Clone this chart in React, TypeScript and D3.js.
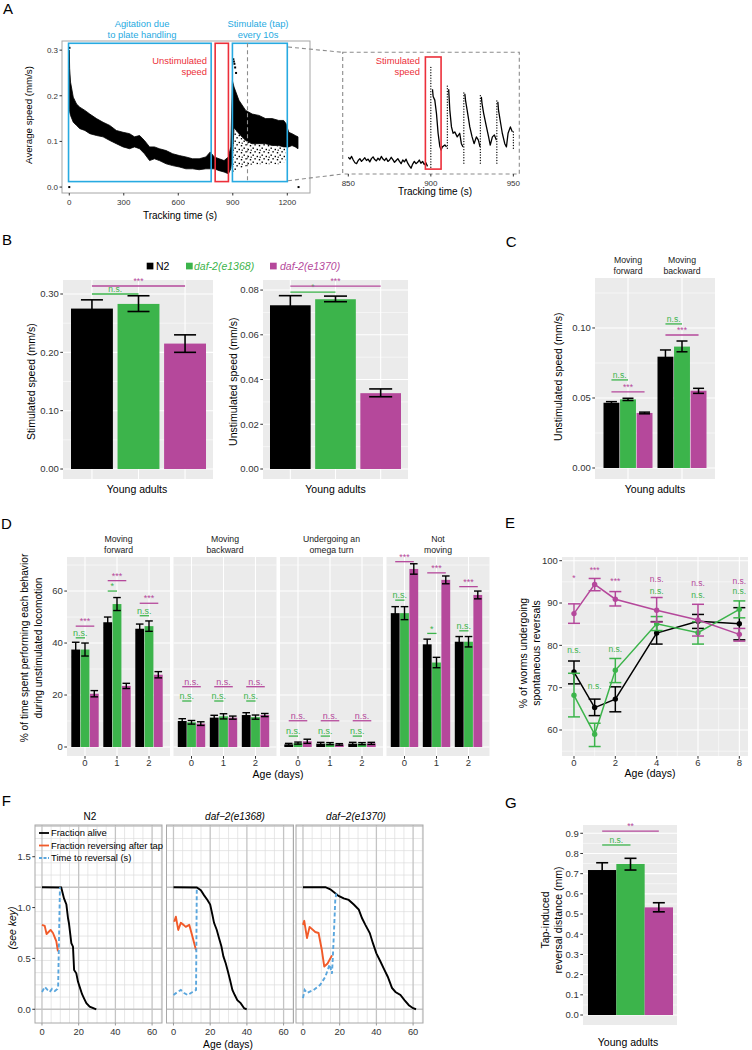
import React from "react";
import * as d3 from "d3";

const FONT = "'Liberation Sans', Arial, Helvetica, sans-serif";
const STRAINS = ["N2", "daf-2(e1368)", "daf-2(e1370)"];
const STRAIN_COLORS = ["#000000", "#3cb44b", "#b5489b"];
const CYAN = "#27aae1";
const BOX_RED = "#ec2f3a";
const PANEL_BG = "#ebebeb";
const AXIS_GREY = "#333333";
const F_RED = "#f15a29";
const F_BLUE = "#5aa6dd";

// ---------- A: average speed trace (band) ----------
const trackTime = [0, 2, 7, 22, 40, 58, 86, 113, 150, 186, 223, 259, 296, 332, 359, 387, 414, 442, 469, 496, 533, 569, 606, 642, 679, 715, 752, 776, 798, 825, 852, 876, 889, 898, 907, 934, 971, 1007, 1044, 1080, 1117, 1153, 1180, 1193, 1208, 1226, 1244, 1259];
const trackHigh = [0.3, 0.26, 0.23, 0.197, 0.182, 0.175, 0.168, 0.16, 0.15, 0.142, 0.135, 0.124, 0.12, 0.117, 0.11, 0.113, 0.102, 0.088, 0.088, 0.084, 0.08, 0.073, 0.069, 0.066, 0.062, 0.062, 0.066, 0.077, 0.066, 0.062, 0.058, 0.066, 0.088, 0.233, 0.219, 0.19, 0.168, 0.16, 0.157, 0.15, 0.15, 0.146, 0.146, 0.139, 0.12, 0.117, 0.113, 0.11];
const trackLow = [0.17, 0.165, 0.157, 0.142, 0.135, 0.128, 0.124, 0.117, 0.113, 0.11, 0.102, 0.095, 0.088, 0.084, 0.088, 0.084, 0.073, 0.058, 0.062, 0.058, 0.051, 0.047, 0.044, 0.04, 0.04, 0.038, 0.04, 0.04, 0.04, 0.036, 0.033, 0.029, 0.04, 0.066, 0.13, 0.117, 0.102, 0.095, 0.095, 0.095, 0.091, 0.091, 0.088, 0.088, 0.088, 0.091, 0.088, 0.084];
const scatterTime = [898, 907, 934, 971, 1007, 1044, 1080, 1117, 1153, 1193];
const scatterHigh = [0.066, 0.13, 0.117, 0.102, 0.095, 0.095, 0.095, 0.091, 0.091, 0.088];
const scatterLow = [0.03, 0.035, 0.04, 0.045, 0.048, 0.05, 0.05, 0.05, 0.05, 0.055];
const outlierTime = [0, 1, 1262, 903, 906, 909, 913, 918];
const outlierSpeed = [0.0, 0.305, 0.0, 0.28, 0.275, 0.27, 0.262, 0.25];
const agitationWindow = [-4, 781];
const unstimWindow = [803, 876];
const tapWindow = [898, 1200];
const zoomMarker = 981;
const aXTicks = [0, 300, 600, 900, 1200];
const aYTicks = [0, 0.1, 0.2, 0.3];

// inset 850-950 s
const insetBaseT = [850, 851, 852, 853, 854, 855, 856, 857, 858, 859, 860, 861, 862, 863, 864, 865, 866, 867, 868, 869, 870, 871, 872, 873, 874, 875, 876, 877, 878, 879, 880, 881, 882, 883, 884, 885, 886, 887, 888, 889, 890, 891, 892, 893, 894, 895, 896, 897, 898];
const insetBaseV = [0.05, 0.046, 0.052, 0.044, 0.038, 0.036, 0.043, 0.047, 0.041, 0.045, 0.049, 0.043, 0.046, 0.04, 0.047, 0.051, 0.045, 0.042, 0.048, 0.044, 0.052, 0.046, 0.043, 0.048, 0.041, 0.044, 0.05, 0.045, 0.039, 0.043, 0.047, 0.041, 0.036, 0.044, 0.04, 0.046, 0.037, 0.031, 0.026, 0.035, 0.041, 0.036, 0.039, 0.044, 0.037, 0.041, 0.034, 0.038, 0.03];
const insetRecoveryT = [
  [901, 901.4, 902.4, 903.4, 904.4, 905.4, 906.2, 907, 908.5, 909.5],
  [910.8, 911.5, 912.5, 913.5, 914.5, 916, 917.5, 918.5, 919.5],
  [920.6, 921, 922, 923.6, 925, 926.2, 927.6, 928.8, 929.8],
  [930.6, 931, 932, 933.7, 935, 936, 937.3, 938.5, 939.7],
  [940.6, 941, 942.3, 943.3, 944.8, 945.8, 946.8, 948.2, 949.4],
];
const insetRecoveryV = [
  [0.2, 0.184, 0.176, 0.147, 0.103, 0.075, 0.066, 0.073, 0.077, 0.073],
  [0.2, 0.154, 0.117, 0.103, 0.106, 0.095, 0.103, 0.08, 0.073],
  [0.19, 0.176, 0.154, 0.117, 0.095, 0.08, 0.095, 0.088, 0.073],
  [0.183, 0.169, 0.147, 0.117, 0.095, 0.077, 0.095, 0.099, 0.088],
  [0.172, 0.154, 0.125, 0.103, 0.08, 0.073, 0.103, 0.117, 0.106],
];
const tapT = [900, 910, 920, 930, 940, 950];
const tapLow = [0.028, 0.07, 0.037, 0.037, 0.037, 0.07];
const tapHigh = [0.25, 0.209, 0.195, 0.187, 0.176, 0.11];
const stimWindow = [896.7, 906.2];
const insetXTicks = [850, 900, 950];

// ---------- B ----------
const bStimMean = [0.275, 0.283, 0.215];
const bStimLo = [0.261, 0.27, 0.2];
const bStimHi = [0.29, 0.297, 0.23];
const bStimSig = [{ to: 1, y: 0.3, label: "n.s." }, { to: 2, y: 0.3137, label: "***" }];
const bUnstimMean = [0.0732, 0.0759, 0.0339];
const bUnstimLo = [0.0688, 0.0748, 0.0323];
const bUnstimHi = [0.0775, 0.0773, 0.0358];
const bUnstimSig = [{ to: 1, y: 0.0791, label: "*" }, { to: 2, y: 0.0818, label: "***" }];

// ---------- C ----------
const cGroups = ["forward", "backward"];
const cGroupLabels = [["Moving", "forward"], ["Moving", "backward"]];
const cMean = [[0.0466, 0.0795], [0.049, 0.0867], [0.0393, 0.0552]];
const cLo = [[0.0458, 0.0747], [0.0482, 0.083], [0.0387, 0.0533]];
const cHi = [[0.0474, 0.0843], [0.0498, 0.0907], [0.0399, 0.0569]];
const cSigGreenY = [0.0629, 0.1029];
const cSigMagentaY = [0.0543, 0.095];

// ---------- D ----------
const dAges = ["0", "1", "2"];
const dFacetLabels = [["Moving", "forward"], ["Moving", "backward"], ["Undergoing an", "omega turn"], ["Not", "moving"]];
const dForward = [[37.5, 48, 45.5], [37.5, 55, 46.5], [20.5, 23.5, 27.8]];
const dForwardErr = [[2.8, 2, 1.8], [2.5, 2.5, 2], [1.2, 1, 1.2]];
const dBackward = [[10, 11.3, 12.3], [9.5, 11.8, 11.5], [9, 11.3, 12.3]];
const dBackwardErr = [[0.9, 0.9, 0.9], [0.7, 1, 0.8], [0.7, 0.6, 0.6]];
const dOmega = [[1, 1.3, 1.3], [1.5, 1.3, 1.3], [2.2, 1, 1.4]];
const dOmegaErr = [[0.4, 0.5, 0.5], [0.4, 0.4, 0.4], [0.8, 0.3, 0.4]];
const dNotMoving = [[51.5, 39.5, 40.5], [51.5, 32.5, 40.5], [68.5, 64.3, 58.5]];
const dNotMovingErr = [[2.5, 2, 2], [2.5, 2, 2], [2, 1.5, 1.5]];
const dSigGreenY = [[42, 60, 50.5], [17.7, 17.7, 17.7], [4.2, 4.2, 4.2], [56.5, 43.7, 44.7]];
const dSigGreenLbl = [["n.s.", "*", "n.s."], ["n.s.", "n.s.", "n.s."], ["n.s.", "n.s.", "n.s."], ["n.s.", "*", "n.s."]];
const dSigMagY = [[46.5, 64, 55.3], [23.2, 23.2, 23.2], [10.1, 10.1, 10.1], [71.3, 67, 61.7]];
const dSigMagLbl = [["***", "***", "***"], ["n.s.", "n.s.", "n.s."], ["n.s.", "n.s.", "n.s."], ["***", "***", "***"]];

// ---------- E ----------
const eAges = [0, 1, 2, 4, 6, 8];
const eMean = [[73.7, 65.3, 67.3, 82.9, 85.7, 85.1], [68.2, 59, 74.1, 85.1, 83, 88.5], [87.5, 94.4, 90.9, 88.3, 86, 82.6]];
const eLo = [[70.9, 63.4, 64.3, 80.3, 84, 81.3], [63.1, 56.1, 71.2, 83.5, 80.3, 86.5], [85.2, 92.9, 89.3, 85.5, 82.2, 81]];
const eHi = [[76.3, 67.3, 70.2, 85.6, 87.3, 88.9], [73.4, 61.6, 76.9, 86.8, 85.6, 90.5], [89.8, 95.8, 92.7, 91.3, 89.7, 84]];
const eSigMagLbl = ["*", "***", "***", "n.s.", "n.s.", "n.s."];
const eSigMagY = [95.2, 97.0, 94.4, 94.85, 94.1, 94.6];
const eSigGreenLbl = ["n.s.", "n.s.", "n.s.", "n.s.", "n.s.", "n.s."];
const eSigGreenY = [78.3, 69.6, 78.5, 92.1, 91.3, 92.1];

// ---------- F ----------
const fTitles = ["N2", "daf\u22122(e1368)", "daf\u22122(e1370)"];
const fAliveDays = [
  [0, 10.5, 12, 13.3, 14.2, 14.7, 16, 16.9, 17.5, 18.7, 19.6, 20.5, 21.8, 22.9, 24.2, 26, 29.6],
  [0, 12.7, 14.9, 16.7, 18.5, 20, 21.2, 22.1, 23.6, 24.8, 26.1, 27.2, 28.5, 29.7, 30.8, 32.1, 33.4, 34.8, 36.6, 38.5, 39.9],
  [0, 12.2, 14.9, 17.6, 19.4, 22.2, 24.9, 27.7, 30.4, 32.2, 34, 36.4, 38.1, 40, 42.2, 44.3, 46.2, 48.5, 50.4, 53.1, 55.3, 57.7, 60, 61.6],
];
const fAlive = [
  [1.2, 1.197, 1.09, 1.03, 0.895, 0.846, 0.65, 0.616, 0.387, 0.354, 0.272, 0.223, 0.15, 0.108, 0.059, 0.026, 0],
  [1.2, 1.197, 1.17, 1.12, 1.075, 1.03, 0.93, 0.85, 0.78, 0.7, 0.62, 0.52, 0.45, 0.37, 0.29, 0.19, 0.14, 0.09, 0.06, 0.01, 0],
  [1.2, 1.2, 1.18, 1.14, 1.115, 1.09, 1.075, 1.03, 0.98, 0.895, 0.83, 0.75, 0.65, 0.55, 0.47, 0.39, 0.32, 0.21, 0.17, 0.14, 0.09, 0.04, 0.01, 0],
];
const fRevDays = [
  [0, 1.5, 2.5, 3.6, 4.7, 6, 6.9, 7.8, 8.7],
  [0.4, 1.3, 2.6, 4, 5.5, 6.7, 8.6, 10.4, 12.3],
  [0, 0.7, 1.3, 2.2, 3.6, 6.7, 8.5, 10.3, 11.6, 13.4, 15.8],
];
const fRev = [
  [0.83, 0.82, 0.74, 0.76, 0.78, 0.75, 0.71, 0.67, 0.57],
  [0.86, 0.91, 0.78, 0.85, 0.83, 0.81, 0.83, 0.71, 0.58],
  [0.83, 0.87, 0.8, 0.7, 0.81, 0.76, 0.75, 0.58, 0.42, 0.45, 0.53],
];
const fTimeDays = [
  [0, 1.5, 3, 4.2, 5.5, 7, 8.4, 8.8, 9.8],
  [0, 2.2, 4, 5.8, 7.7, 10.4, 12.3, 12.7],
  [0, 0.9, 2.2, 5.8, 9.4, 12.2, 14.5, 15.8, 16.3, 17.1, 17.6, 18.2],
];
const fTime = [
  [0.17, 0.22, 0.19, 0.17, 0.2, 0.18, 0.2, 0.22, 1.2],
  [0.14, 0.17, 0.19, 0.16, 0.14, 0.17, 0.19, 1.19],
  [0.11, 0.19, 0.16, 0.19, 0.24, 0.32, 0.44, 0.35, 0.52, 0.85, 1.075, 1.14],
];
const fLegend = ["Fraction alive", "Fraction reversing after tap", "Time to reversal (s)"];
const fYTicks = [0, 0.5, 1.0, 1.5];
const fXTicks = [0, 20, 40, 60];

// ---------- G ----------
const gDist = [0.718, 0.748, 0.533];
const gLo = [0.682, 0.718, 0.511];
const gHi = [0.754, 0.776, 0.556];
const gSig = [{ to: 1, y: 0.842, label: "n.s." }, { to: 2, y: 0.911, label: "**" }];

// ---------- helpers ----------
function ErrBar({ x, y1, y2, half, sw = 1.5, color = "#000" }: any) {
  return (
    <g stroke={color} strokeWidth={sw} fill="none">
      <line x1={x} x2={x} y1={y1} y2={y2} />
      <line x1={x - half} x2={x + half} y1={y1} y2={y1} />
      <line x1={x - half} x2={x + half} y1={y2} y2={y2} />
    </g>
  );
}

function Sig({ x1, x2, y, label, color, fs = 8.5 }: any) {
  return (
    <g>
      <line x1={x1} x2={x2} y1={y} y2={y} stroke={color} strokeWidth={1.3} />
      <text x={(x1 + x2) / 2} y={y - 1.8} fontSize={fs} fill={color} textAnchor="middle">
        {label}
      </text>
    </g>
  );
}

function GrayPanel({ x0, x1, y0, y1, hMajor = [], hMinor = [], vMajor = [], vMinor = [] }: any) {
  return (
    <g>
      <rect x={x0} y={y0} width={x1 - x0} height={y1 - y0} fill={PANEL_BG} />
      {hMinor.map((v: number, i: number) => (
        <line key={"hm" + i} x1={x0} x2={x1} y1={v} y2={v} stroke="#fff" strokeWidth={0.55} />
      ))}
      {vMinor.map((v: number, i: number) => (
        <line key={"vm" + i} x1={v} x2={v} y1={y0} y2={y1} stroke="#fff" strokeWidth={0.55} />
      ))}
      {hMajor.map((v: number, i: number) => (
        <line key={"hM" + i} x1={x0} x2={x1} y1={v} y2={v} stroke="#fff" strokeWidth={1.1} />
      ))}
      {vMajor.map((v: number, i: number) => (
        <line key={"vM" + i} x1={v} x2={v} y1={y0} y2={y1} stroke="#fff" strokeWidth={1.1} />
      ))}
    </g>
  );
}

function YTicks({ scale, ticks, x, fmt, fs = 9.5, len = 2.7, color = AXIS_GREY }: any) {
  return (
    <g>
      {ticks.map((v: number, i: number) => (
        <g key={i}>
          <line x1={x - len} x2={x} y1={scale(v)} y2={scale(v)} stroke={color} strokeWidth={1} />
          <text x={x - len - 1.5} y={scale(v)} dy="0.35em" fontSize={fs} textAnchor="end" fill={color}>
            {fmt(v)}
          </text>
        </g>
      ))}
    </g>
  );
}

function VTitle({ x, y, lines, fs = 10.5, gap = 13, italic = false }: any) {
  return (
    <g transform={`translate(${x},${y}) rotate(-90)`}>
      {lines.map((s: string, i: number) => (
        <text key={i} x={0} y={(i - (lines.length - 1) / 2) * gap} dy="0.35em" fontSize={fs} textAnchor="middle" fontStyle={italic ? "italic" : "normal"}>
          {s}
        </text>
      ))}
    </g>
  );
}

// ---------- panel A ----------
function PanelA() {
  const x = d3.scaleLinear().domain([-40, 1325]).range([62, 310]);
  const y = d3.scaleLinear().domain([-0.013, 0.32]).range([193, 41]);
  const band = d3
    .area<number>()
    .x((i) => x(trackTime[i]))
    .y0((i) => y(trackLow[i]))
    .y1((i) => y(trackHigh[i]));
  const speckle = d3
    .area<number>()
    .x((i) => x(scatterTime[i]))
    .y0((i) => y(scatterLow[i]))
    .y1((i) => y(scatterHigh[i]));
  const top = y(0.315);
  const bot = y(0.012);
  const box = (w: number[], color: string) => (
    <rect x={x(w[0])} y={top} width={x(w[1]) - x(w[0])} height={bot - top} fill="none" stroke={color} strokeWidth={1.6} />
  );

  const ix = d3.scaleLinear().domain([846.6, 953.6]).range([342.7, 519.3]);
  const iy = d3.scaleLinear().domain([0, 0.28]).range([180, 52.9]);
  const baseLine = d3
    .line<number>()
    .x((i) => ix(insetBaseT[i]))
    .y((i) => iy(insetBaseV[i]));
  const seg = (k: number) =>
    d3
      .line<number>()
      .x((i) => ix(insetRecoveryT[k][i]))
      .y((i) => iy(insetRecoveryV[k][i]))(d3.range(insetRecoveryT[k].length));

  return (
    <g>
      <text x={3} y={14} fontSize={15}>A</text>
      <g fontSize={9.4} fill={CYAN} textAnchor="middle">
        <text x={142} y={27}>Agitation due</text>
        <text x={142} y={37.5}>to plate handling</text>
        <text x={258} y={27}>Stimulate (tap)</text>
        <text x={258} y={37.5}>every 10s</text>
      </g>
      <rect x={62} y={41} width={248} height={152} fill="#fff" stroke="#a6a6a6" strokeWidth={1} />
      <path d={speckle(d3.range(scatterTime.length)) || ""} fill="url(#speckle)" />
      <path d={band(d3.range(trackTime.length)) || ""} fill="#000" stroke="#000" strokeWidth={0.8} strokeLinejoin="round" />
      {outlierTime.map((t, i) => (
        <rect key={i} x={x(t) - 1} y={y(outlierSpeed[i]) - 1} width={2} height={2} fill="#000" />
      ))}
      {box(agitationWindow, CYAN)}
      {box(unstimWindow, BOX_RED)}
      {box(tapWindow, CYAN)}
      <line x1={x(zoomMarker)} x2={x(zoomMarker)} y1={top} y2={bot} stroke="#8c8c8c" strokeWidth={1.1} strokeDasharray="4,3" />
      <g fontSize={9.4} fill={BOX_RED} textAnchor="end">
        <text x={207} y={64}>Unstimulated</text>
        <text x={207} y={74.5}>speed</text>
      </g>
      <YTicks scale={y} ticks={aYTicks} x={62} fmt={d3.format(".1f")} fs={8} len={2.5} />
      {aXTicks.map((t) => (
        <g key={t}>
          <line x1={x(t)} x2={x(t)} y1={193} y2={195.5} stroke={AXIS_GREY} />
          <text x={x(t)} y={204.5} fontSize={8} textAnchor="middle" fill={AXIS_GREY}>{t}</text>
        </g>
      ))}
      <VTitle x={28.3} y={115} lines={["Average speed (mm/s)"]} fs={9.7} />
      <text x={180} y={218.5} fontSize={10} textAnchor="middle">Tracking time (s)</text>

      {/* zoom connectors and inset */}
      <g stroke="#8c8c8c" strokeWidth={1.1} strokeDasharray="4,3" fill="none">
        <line x1={288} y1={47} x2={342.7} y2={52.3} />
        <line x1={288} y1={180.7} x2={342.7} y2={174} />
        <rect x={342.7} y={52.3} width={176.6} height={121.7} />
      </g>
      {tapT.map((t, i) => (
        <line key={t} x1={ix(t)} x2={ix(t)} y1={iy(tapLow[i])} y2={iy(tapHigh[i])} stroke="#000" strokeWidth={1.3} strokeLinecap="round" strokeDasharray="0.1,2.6" />
      ))}
      <path d={baseLine(d3.range(insetBaseT.length)) || ""} fill="none" stroke="#000" strokeWidth={1.3} strokeLinejoin="round" />
      {insetRecoveryT.map((_, k) => (
        <path key={k} d={seg(k) || ""} fill="none" stroke="#000" strokeWidth={1.3} strokeLinejoin="round" />
      ))}
      <rect x={ix(stimWindow[0])} y={iy(0.271)} width={ix(stimWindow[1]) - ix(stimWindow[0])} height={iy(0.024) - iy(0.271)} fill="none" stroke={BOX_RED} strokeWidth={1.6} />
      <g fontSize={9.4} fill={BOX_RED} textAnchor="end">
        <text x={420} y={63.5}>Stimulated</text>
        <text x={420} y={75}>speed</text>
      </g>
      {insetXTicks.map((t) => (
        <g key={t}>
          <line x1={ix(t)} x2={ix(t)} y1={174} y2={176.5} stroke={AXIS_GREY} />
          <text x={ix(t)} y={185.5} fontSize={8} textAnchor="middle" fill={AXIS_GREY}>{t}</text>
        </g>
      ))}
      <text x={435} y={195} fontSize={10} textAnchor="middle">Tracking time (s)</text>
    </g>
  );
}

// ---------- bar trio (B, G) ----------
function BarTrio({ x0, x1, yTop, yBot, domain, barRange, pad, mean, lo, hi, sigs, ticks, minor, fmt, capHalf, vGrid = true, sigFs = 8.5 }: any) {
  const y = d3.scaleLinear().domain(domain).range([yBot, yTop]);
  const x = d3.scaleBand().domain(STRAINS).range(barRange).paddingInner(pad);
  const cx = (i: number) => (x(STRAINS[i]) as number) + x.bandwidth() / 2;
  return (
    <g>
      <GrayPanel
        x0={x0}
        x1={x1}
        y0={yTop}
        y1={yBot}
        hMajor={ticks.map(y)}
        hMinor={minor.map(y)}
        vMajor={vGrid ? STRAINS.map((_, i) => cx(i)) : []}
      />
      {STRAINS.map((s, i) => (
        <rect key={s} x={x(s)} y={y(mean[i])} width={x.bandwidth()} height={y(0) - y(mean[i])} fill={STRAIN_COLORS[i]} />
      ))}
      {STRAINS.map((s, i) => (
        <ErrBar key={s} x={cx(i)} y1={y(lo[i])} y2={y(hi[i])} half={capHalf} sw={1.6} />
      ))}
      {sigs.map((g: any, k: number) => (
        <Sig key={k} x1={cx(0)} x2={cx(g.to)} y={y(g.y)} label={g.label} color={STRAIN_COLORS[g.to]} fs={sigFs} />
      ))}
      <YTicks scale={y} ticks={ticks} x={x0} fmt={fmt} />
    </g>
  );
}

function PanelB() {
  return (
    <g>
      <text x={2} y={245} fontSize={15}>B</text>
      <rect x={146.7} y={262.7} width={6.7} height={6.7} fill={STRAIN_COLORS[0]} />
      <text x={156} y={270} fontSize={10.5}>N2</text>
      <rect x={186} y={262.7} width={6.7} height={6.7} fill={STRAIN_COLORS[1]} />
      <text x={194} y={270} fontSize={10.5} fontStyle="italic" fill={STRAIN_COLORS[1]}>{STRAINS[1]}</text>
      <rect x={270} y={262.7} width={6.7} height={6.7} fill={STRAIN_COLORS[2]} />
      <text x={280} y={270} fontSize={10.5} fontStyle="italic" fill={STRAIN_COLORS[2]}>{STRAINS[2]}</text>

      <BarTrio
        x0={63}
        x1={213}
        yTop={280}
        yBot={479}
        domain={[-0.0171, 0.324]}
        barRange={[71, 206]}
        pad={0.1}
        mean={bStimMean}
        lo={bStimLo}
        hi={bStimHi}
        sigs={bStimSig}
        ticks={[0, 0.1, 0.2, 0.3]}
        minor={[0.05, 0.15, 0.25]}
        fmt={d3.format(".2f")}
        capHalf={11}
      />
      <VTitle x={31.7} y={381.7} lines={["Stimulated speed (mm/s)"]} />
      <text x={137} y={492.5} fontSize={10.5} textAnchor="middle">Young adults</text>

      <BarTrio
        x0={263}
        x1={408}
        yTop={280}
        yBot={479}
        domain={[-0.00447, 0.0845]}
        barRange={[270, 401]}
        pad={0.1}
        mean={bUnstimMean}
        lo={bUnstimLo}
        hi={bUnstimHi}
        sigs={bUnstimSig}
        ticks={[0, 0.02, 0.04, 0.06, 0.08]}
        minor={[0.01, 0.03, 0.05, 0.07]}
        fmt={d3.format(".2f")}
        capHalf={11.5}
      />
      <VTitle x={233.3} y={381.7} lines={["Unstimulated speed (mm/s)"]} />
      <text x={335.5} y={492.5} fontSize={10.5} textAnchor="middle">Young adults</text>
    </g>
  );
}

function PanelC() {
  const y = d3.scaleLinear().domain([-0.00786, 0.1357]).range([479, 278]);
  const g = d3.scalePoint().domain(cGroups).range([628, 682]);
  const yt = [0, 0.05, 0.1];
  return (
    <g>
      <text x={505.7} y={246.7} fontSize={15}>C</text>
      <GrayPanel
        x0={595}
        x1={715}
        y0={278}
        y1={479}
        hMajor={yt.map(y)}
        hMinor={[0.025, 0.075, 0.125].map(y)}
        vMajor={cGroups.map((k) => g(k))}
      />
      {cGroups.map((k, j) => {
        const c = g(k) as number;
        const b = d3.scaleBand().domain(STRAINS).range([c - 24.5, c + 24.5]).paddingInner(0.04);
        const cx = (i: number) => (b(STRAINS[i]) as number) + b.bandwidth() / 2;
        return (
          <g key={k}>
            {STRAINS.map((s, i) => (
              <rect key={s} x={b(s)} y={y(cMean[i][j])} width={b.bandwidth()} height={y(0) - y(cMean[i][j])} fill={STRAIN_COLORS[i]} />
            ))}
            {STRAINS.map((s, i) => (
              <ErrBar key={s} x={cx(i)} y1={y(cLo[i][j])} y2={y(cHi[i][j])} half={5.5} sw={1.5} />
            ))}
            <Sig x1={cx(0)} x2={cx(1)} y={y(cSigGreenY[j])} label="n.s." color={STRAIN_COLORS[1]} />
            <Sig x1={cx(0)} x2={cx(2)} y={y(cSigMagentaY[j])} label="***" color={STRAIN_COLORS[2]} />
            <text x={c} y={262.5} fontSize={8.7} textAnchor="middle" fill="#1a1a1a">{cGroupLabels[j][0]}</text>
            <text x={c} y={274} fontSize={8.7} textAnchor="middle" fill="#1a1a1a">{cGroupLabels[j][1]}</text>
          </g>
        );
      })}
      <YTicks scale={y} ticks={yt} x={595} fmt={d3.format(".2f")} />
      <VTitle x={558.3} y={376.7} lines={["Unstimulated speed (mm/s)"]} />
      <text x={655} y={492.5} fontSize={10.5} textAnchor="middle">Young adults</text>
    </g>
  );
}

function PanelD() {
  const y = d3.scaleLinear().domain([-3.46, 73.1]).range([756, 557]);
  const panelX = [67, 173.5, 280, 386.5];
  const w = 103;
  const means = [dForward, dBackward, dOmega, dNotMoving];
  const errs = [dForwardErr, dBackwardErr, dOmegaErr, dNotMovingErr];
  const yt = [0, 20, 40, 60];
  return (
    <g>
      <text x={1} y={529} fontSize={15}>D</text>
      {panelX.map((px, p) => {
        const ax = d3.scalePoint().domain(dAges).range([px + 18, px + 82]);
        return (
          <g key={p}>
            <GrayPanel
              x0={px}
              x1={px + w}
              y0={557}
              y1={756}
              hMajor={yt.map(y)}
              hMinor={[10, 30, 50, 70].map(y)}
              vMajor={dAges.map((a) => ax(a))}
            />
            <text x={px + w / 2} y={541.5} fontSize={8.7} textAnchor="middle" fill="#1a1a1a">{dFacetLabels[p][0]}</text>
            <text x={px + w / 2} y={553} fontSize={8.7} textAnchor="middle" fill="#1a1a1a">{dFacetLabels[p][1]}</text>
            {dAges.map((a, k) => {
              const c = ax(a) as number;
              const b = d3.scaleBand().domain(STRAINS).range([c - 13.7, c + 13.7]).paddingInner(0.05);
              const cx = (i: number) => (b(STRAINS[i]) as number) + b.bandwidth() / 2;
              return (
                <g key={a}>
                  {STRAINS.map((s, i) => (
                    <rect key={s} x={b(s)} y={y(means[p][i][k])} width={b.bandwidth()} height={y(0) - y(means[p][i][k])} fill={STRAIN_COLORS[i]} />
                  ))}
                  {STRAINS.map((s, i) => (
                    <ErrBar key={s} x={cx(i)} y1={y(means[p][i][k] - errs[p][i][k])} y2={y(means[p][i][k] + errs[p][i][k])} half={3.8} sw={1.4} />
                  ))}
                  <Sig x1={cx(0)} x2={cx(1)} y={y(dSigGreenY[p][k])} label={dSigGreenLbl[p][k]} color={STRAIN_COLORS[1]} fs={9} />
                  <Sig x1={cx(0)} x2={cx(2)} y={y(dSigMagY[p][k])} label={dSigMagLbl[p][k]} color={STRAIN_COLORS[2]} fs={9} />
                  <line x1={c} x2={c} y1={756} y2={758.7} stroke={AXIS_GREY} />
                  <text x={c} y={766} fontSize={9.5} textAnchor="middle" fill={AXIS_GREY}>{a}</text>
                </g>
              );
            })}
          </g>
        );
      })}
      <YTicks scale={y} ticks={yt} x={67} fmt={(v: number) => String(v)} />
      <VTitle x={31.5} y={648} lines={["% of time spent performing each behavior", "during unstimulated locomotion"]} fs={10.2} gap={13.3} />
      <text x={278} y={777.5} fontSize={10.5} textAnchor="middle">Age (days)</text>
    </g>
  );
}

function PanelE() {
  const x = d3.scaleLinear().domain([-0.58, 8.42]).range([562, 748]);
  const y = d3.scaleLinear().domain([53.86, 100.87]).range([756, 557]);
  const yt = [60, 70, 80, 90, 100];
  const xt = [0, 2, 4, 6, 8];
  const line = (s: number) =>
    d3
      .line<number>()
      .x((i) => x(eAges[i]))
      .y((i) => y(eMean[s][i]))(d3.range(eAges.length));
  return (
    <g>
      <text x={505} y={528} fontSize={15}>E</text>
      <GrayPanel
        x0={562}
        x1={748}
        y0={557}
        y1={756}
        hMajor={yt.map(y)}
        hMinor={[55, 65, 75, 85, 95].map(y)}
        vMajor={xt.map(x)}
        vMinor={[1, 3, 5, 7].map(x)}
      />
      {STRAINS.map((s, si) => (
        <g key={s}>
          <path d={line(si) || ""} fill="none" stroke={STRAIN_COLORS[si]} strokeWidth={1.5} />
          {eAges.map((a, i) => (
            <ErrBar key={a} x={x(a)} y1={y(eLo[si][i])} y2={y(eHi[si][i])} half={6} sw={1.5} color={STRAIN_COLORS[si]} />
          ))}
          {eAges.map((a, i) => (
            <circle key={"p" + a} cx={x(a)} cy={y(eMean[si][i])} r={2.7} fill={STRAIN_COLORS[si]} />
          ))}
        </g>
      ))}
      {eAges.map((a, i) => (
        <g key={a} fontSize={8.5} textAnchor="middle">
          <text x={x(a)} y={y(eSigMagY[i])} fill={STRAIN_COLORS[2]}>{eSigMagLbl[i]}</text>
          <text x={x(a)} y={y(eSigGreenY[i])} fill={STRAIN_COLORS[1]}>{eSigGreenLbl[i]}</text>
        </g>
      ))}
      <YTicks scale={y} ticks={yt} x={562} fmt={(v: number) => String(v)} />
      {xt.map((a) => (
        <g key={a}>
          <line x1={x(a)} x2={x(a)} y1={756} y2={758.7} stroke={AXIS_GREY} />
          <text x={x(a)} y={766} fontSize={9.5} textAnchor="middle" fill={AXIS_GREY}>{a}</text>
        </g>
      ))}
      <VTitle x={530} y={653} lines={["% of worms undergoing", "spontaneous reversals"]} fs={10.5} gap={13.4} />
      <text x={650} y={777} fontSize={10.5} textAnchor="middle">Age (days)</text>
    </g>
  );
}

function PanelF() {
  const y = d3.scaleLinear().domain([-0.135, 1.812]).range([1023, 825]);
  const panelX = [35, 166.5, 296];
  const titleX = [90, 235, 356];
  const w = 127;
  const hMinor = [0.12, 0.24, 0.36, 0.48, 0.72, 0.84, 0.96, 1.08, 1.32, 1.44, 1.56, 1.68];
  const hMajor = [0, 0.6, 1.2, 1.8];
  const vMinor = [5, 10, 15, 25, 30, 35, 45, 50, 55, 65];
  const vMajor = [0, 20, 40, 60];
  return (
    <g>
      <text x={1.7} y={805.7} fontSize={15}>F</text>
      {panelX.map((px, p) => {
        const x = d3.scaleLinear().domain([-3.8, 65.4]).range([px, px + w]);
        const mk = (days: number[], vals: number[]) =>
          d3
            .line<number>()
            .x((i) => x(days[i]))
            .y((i) => y(vals[i]))(d3.range(days.length)) || "";
        return (
          <g key={p}>
            <rect x={px} y={825} width={w} height={198} fill="#fff" />
            {hMinor.map((v) => (
              <line key={"h" + v} x1={px} x2={px + w} y1={y(v)} y2={y(v)} stroke="#dcdcdc" strokeWidth={0.7} />
            ))}
            {vMinor.map((v) => (
              <line key={"v" + v} x1={x(v)} x2={x(v)} y1={825} y2={1023} stroke="#dcdcdc" strokeWidth={0.7} />
            ))}
            {hMajor.map((v) => (
              <line key={"H" + v} x1={px} x2={px + w} y1={y(v)} y2={y(v)} stroke="#c4c4c4" strokeWidth={1.3} />
            ))}
            {vMajor.map((v) => (
              <line key={"V" + v} x1={x(v)} x2={x(v)} y1={825} y2={1023} stroke="#c4c4c4" strokeWidth={1.3} />
            ))}
            <rect x={px} y={825} width={w} height={198} fill="none" stroke="#a8a8a8" strokeWidth={1} />
            <path d={mk(fAliveDays[p], fAlive[p])} fill="none" stroke="#000" strokeWidth={1.9} />
            <path d={mk(fRevDays[p], fRev[p])} fill="none" stroke={F_RED} strokeWidth={1.9} strokeLinejoin="round" />
            <path d={mk(fTimeDays[p], fTime[p])} fill="none" stroke={F_BLUE} strokeWidth={1.9} strokeDasharray="4,2.5" />
            {fXTicks.map((t) => (
              <g key={t}>
                <line x1={x(t)} x2={x(t)} y1={1023} y2={1025.5} stroke="#999" />
                <text x={x(t)} y={1035} fontSize={9.3} textAnchor="middle" fill={AXIS_GREY}>{t}</text>
              </g>
            ))}
            <text x={titleX[p]} y={820} fontSize={10} textAnchor="middle" fontStyle={p === 0 ? "normal" : "italic"}>
              {fTitles[p]}
            </text>
          </g>
        );
      })}
      {fLegend.map((s, i) => (
        <g key={s}>
          <line x1={39} x2={49} y1={833 + i * 12.5} y2={833 + i * 12.5} stroke={["#000", F_RED, F_BLUE][i]} strokeWidth={1.8} strokeDasharray={i === 2 ? "3,1.5" : undefined} />
          <text x={51} y={833 + i * 12.5} dy="0.35em" fontSize={9.4}>{s}</text>
        </g>
      ))}
      <YTicks scale={y} ticks={fYTicks} x={35} fmt={d3.format(".1f")} color={AXIS_GREY} />
      <VTitle x={12} y={928} lines={["(see key)"]} fs={10.5} italic />
      <text x={228} y={1047.5} fontSize={10.3} textAnchor="middle">Age (days)</text>
    </g>
  );
}

function PanelG() {
  return (
    <g>
      <text x={505} y={808} fontSize={15}>G</text>
      <BarTrio
        x0={583}
        x1={677}
        yTop={825}
        yBot={1025}
        domain={[-0.0495, 0.941]}
        barRange={[588, 673]}
        pad={0}
        mean={gDist}
        lo={gLo}
        hi={gHi}
        sigs={gSig}
        ticks={[0, 0.1, 0.2, 0.3, 0.4, 0.5, 0.6, 0.7, 0.8, 0.9]}
        minor={[0.05, 0.15, 0.25, 0.35, 0.45, 0.55, 0.65, 0.75, 0.85]}
        fmt={d3.format(".1f")}
        capHalf={6}
        vGrid={false}
      />
      <VTitle x={551.5} y={920} lines={["Tap-induced", "reversal distance (mm)"]} fs={10.5} gap={13} />
      <text x={628} y={1046} fontSize={10.5} textAnchor="middle">Young adults</text>
    </g>
  );
}

export default function App() {
  return (
    <svg
      width={752}
      height={1050}
      viewBox="0 0 752 1050"
      style={{ position: "absolute", left: 0, top: 0, background: "#fff" }}
      fontFamily={FONT}
    >
      <defs>
        <pattern id="speckle" width={9} height={7} patternUnits="userSpaceOnUse">
          <rect x={0.5} y={0.5} width={1.4} height={1.4} fill="#000" />
          <rect x={4.6} y={1.8} width={1.4} height={1.4} fill="#000" />
          <rect x={2.4} y={4.1} width={1.4} height={1.4} fill="#000" />
          <rect x={6.8} y={5.0} width={1.4} height={1.4} fill="#000" />
          <rect x={7.6} y={2.6} width={1.2} height={1.2} fill="#000" />
        </pattern>
      </defs>
      <rect width={752} height={1050} fill="#fff" />
      <PanelA />
      <PanelB />
      <PanelC />
      <PanelD />
      <PanelE />
      <PanelF />
      <PanelG />
    </svg>
  );
}
